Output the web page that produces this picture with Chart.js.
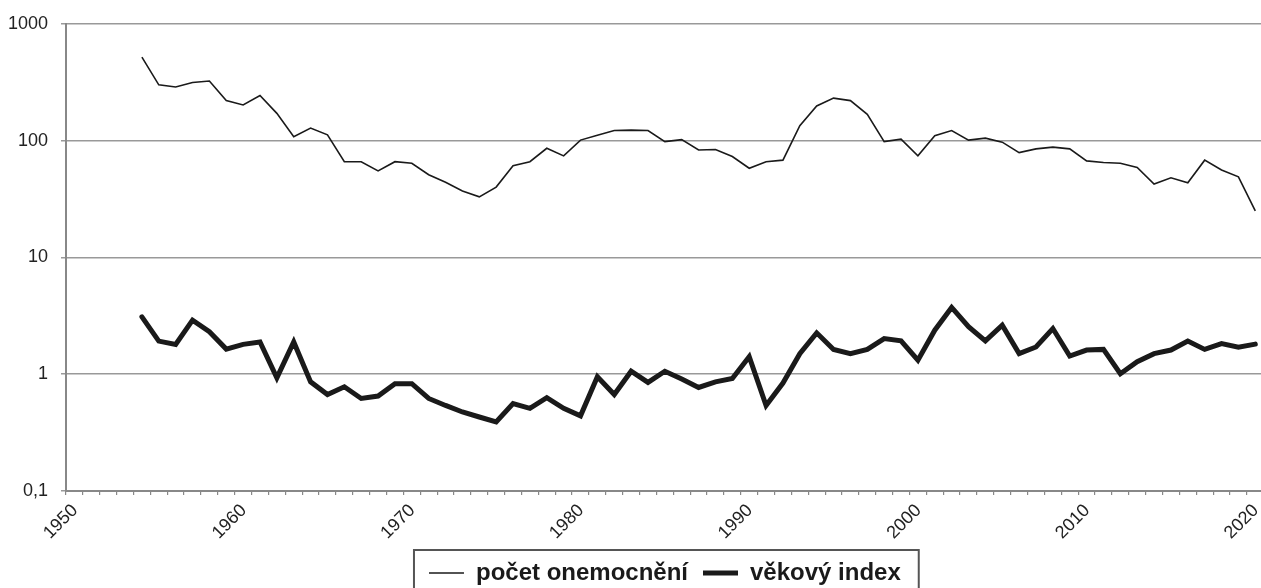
<!DOCTYPE html>
<html>
<head>
<meta charset="utf-8">
<script src="https://cdn.jsdelivr.net/npm/chart.js@4.4.0/dist/chart.umd.min.js"></script>
<style>
  html, body { margin: 0; padding: 0; background: #fff; overflow: hidden; }
  #wrap { width: 1261px; height: 588px; overflow: hidden; position: relative; }
  canvas { display: block; }
</style>
</head>
<body>
<div id="wrap"><canvas id="chart" width="1284" height="595"></canvas></div>
<script>
var years = [];
for (var yr = 1954; yr <= 2020; yr++) years.push(yr);

// počet onemocnění
var cases = [518, 300, 288, 314, 324, 220, 202, 243, 171, 108,
             128, 112, 66, 66, 55, 66, 64, 51, 44, 37,
             33, 40, 61, 66, 86, 74, 101, 111, 122, 123,
             122, 98, 102, 83, 84, 73, 58, 66, 68, 134,
             198, 231, 220, 168, 98, 103, 74, 110, 122, 101,
             105, 97, 79, 85, 88, 85, 67, 65, 64, 59,
             42.5, 48, 43.5, 68, 56, 49, 25];

// věkový index
var ageIndex = [3.1, 1.92, 1.8, 2.9, 2.31, 1.64, 1.8, 1.89, 0.93, 1.89,
                0.86, 0.67, 0.78, 0.62, 0.65, 0.83, 0.83, 0.62, 0.54, 0.475,
                0.43, 0.39, 0.56, 0.51, 0.63, 0.51, 0.44, 0.95, 0.67, 1.06,
                0.85, 1.06, 0.91, 0.77, 0.86, 0.92, 1.41, 0.54, 0.84, 1.5,
                2.26, 1.63, 1.5, 1.63, 2.02, 1.93, 1.32, 2.38, 3.73, 2.55,
                1.93, 2.63, 1.5, 1.71, 2.46, 1.43, 1.61, 1.63, 1.01, 1.28,
                1.5, 1.61, 1.92, 1.63, 1.83, 1.7, 1.81];

var yTicks = [0.1, 1, 10, 100, 1000];

// body roku leží uprostřed intervalu
var points = function (values) {
    var out = [];
    for (var i = 0; i < years.length; i++) {
        out.push({ x: years[i] + 0.5, y: values[i] });
    }
    return out;
};

var legendBox = {
    id: 'legendBox',
    afterDraw: function (chart) {
        var boxes = chart.legend.legendHitBoxes;
        if (!boxes || !boxes.length) return;
        var first = boxes[0], last = boxes[boxes.length - 1];
        var ctx = chart.ctx;
        ctx.save();
        ctx.strokeStyle = '#555';
        ctx.lineWidth = 2;
        ctx.strokeRect(first.left - 15, first.top - 11, last.left + last.width - first.left + 33, 60);
        ctx.restore();
    }
};

var ctx = document.getElementById('chart');
var myChart = new Chart(ctx, {
    type: 'line',
    data: {
        datasets: [
            {
                label: 'počet onemocnění',
                data: points(cases),
                borderColor: '#1a1a1a',
                borderWidth: 1.6,
                pointRadius: 0,
                tension: 0,
                borderCapStyle: 'butt'
            },
            {
                label: 'věkový index',
                data: points(ageIndex),
                borderColor: '#1a1a1a',
                borderWidth: 5,
                pointRadius: 0,
                tension: 0,
                borderCapStyle: 'round',
                borderJoinStyle: 'miter'
            }
        ]
    },
    options: {
        responsive: false,
        animation: false,
        layout: { padding: { top: 15, left: 0, right: 0, bottom: 0 } },
        plugins: {
            tooltip: { enabled: false },
            legend: {
                position: 'bottom',
                fullSize: false,
                labels: {
                    usePointStyle: true,
                    pointStyle: 'line',
                    pointStyleWidth: 35,
                    padding: 15,
                    color: '#1a1a1a',
                    font: { family: 'Liberation Sans, Arial, sans-serif', size: 24, weight: 'bold' }
                }
            }
        },
        scales: {
            x: {
                type: 'linear',
                min: 1950,
                max: 2021,
                afterFit: function (scale) { scale.height = 55; },
                ticks: {
                    stepSize: 1,
                    autoSkip: false,
                    maxRotation: 45,
                    minRotation: 45,
                    padding: 5,
                    labelOffset: 9,
                    color: '#222',
                    font: { family: 'Liberation Sans, Arial, sans-serif', size: 18 },
                    callback: function (v) { return v % 10 === 0 ? String(v) : ''; }
                },
                grid: { drawOnChartArea: false, color: '#888', tickLength: 4, lineWidth: 1.2 },
                border: { color: '#888', width: 2 }
            },
            y: {
                type: 'logarithmic',
                min: 0.1,
                max: 1000,
                afterFit: function (scale) { scale.width = 66; },
                afterBuildTicks: function (scale) {
                    scale.ticks = yTicks.map(function (v) { return { value: v }; });
                },
                ticks: {
                    padding: 13,
                    color: '#222',
                    font: { family: 'Liberation Sans, Arial, sans-serif', size: 18 },
                    callback: function (v) { return String(v).replace('.', ','); }
                },
                grid: { color: '#999', lineWidth: 1.5, tickLength: 5 },
                border: { color: '#888', width: 2 }
            }
        }
    },
    plugins: [legendBox]
});
</script>
</body>
</html>
